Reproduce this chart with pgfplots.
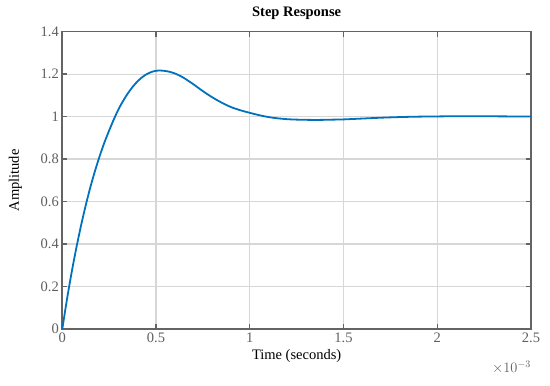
\documentclass[border=0pt]{standalone}
\usepackage{pgfplots}
\pgfplotsset{compat=1.18}
\usepackage{fontspec}
\setmainfont{Liberation Serif}
\definecolor{mblue}{RGB}{0,114,189}
\definecolor{axgray}{RGB}{100,100,100}
\definecolor{tickgray}{RGB}{95,95,95}
\definecolor{gridgray}{RGB}{215,215,215}
\begin{document}
\begin{tikzpicture}
\begin{axis}[
  scale only axis,
  width=468.7pt, height=297.3pt,
  xmin=0, xmax=2.5, ymin=0, ymax=1.4,
  xtick={0,0.5,1,1.5,2,2.5},
  ytick={0,0.2,0.4,0.6,0.8,1,1.2,1.4},
  /pgf/number format/assume math mode=true,
  font=\fontsize{14.5}{16}\selectfont,
  tick label style={text=tickgray},
  axis line style={axgray, line width=1.6pt},
  tick style={axgray, line width=1.4pt},
  tick align=inside,
  major tick length=5pt,
  grid=major,
  major grid style={gridgray, line width=1.3pt},
  every axis title shift=0pt,
  title={\textbf{Step Response}},
  title style={at={(axis description cs:0.5,1.0605)}, anchor=center},
  xlabel={Time (seconds)},
  xlabel style={at={(axis description cs:0.5,-0.0908)}, anchor=center},
  ylabel={Amplitude},
  ylabel style={at={(axis description cs:-0.1003,0.5)}, anchor=center},
  clip=false,
]
\addplot[mblue, line width=1.8pt, smooth, tension=0.5] table {
t y
0 0
0.025 0.14
0.05 0.2675
0.075 0.3825
0.1 0.4875
0.125 0.5825
0.15 0.669
0.175 0.746
0.2 0.816
0.225 0.879
0.25 0.935
0.275 0.9875
0.3 1.035
0.325 1.075
0.35 1.11
0.375 1.14
0.4 1.165
0.425 1.185
0.45 1.2
0.475 1.21
0.5 1.2160
0.525 1.2170
0.55 1.2150
0.575 1.2105
0.6 1.2035
0.625 1.1935
0.65 1.1815
0.7 1.152
0.75 1.12
0.8 1.091
0.85 1.066
0.9 1.045
0.95 1.03
1.0 1.018
1.05 1.007
1.1 0.998
1.15 0.992
1.2 0.988
1.25 0.986
1.3 0.985
1.35 0.9845
1.4 0.985
1.45 0.986
1.5 0.987
1.6 0.991
1.7 0.995
1.8 0.998
1.9 1.000
2.0 1.001
2.1 1.002
2.2 1.002
2.3 1.0015
2.4 1.001
2.5 1.0005
};
\node[anchor=east, text=tickgray, inner sep=0pt] at (rel axis cs:1,0) [yshift=-38pt] {$\times10^{\scriptstyle -3}$};
\end{axis}
\pgfresetboundingbox
\path[use as bounding box] (current axis.south west) ++(-62.3pt,-57pt) rectangle ++(550pt,386pt);
\end{tikzpicture}
\end{document}
